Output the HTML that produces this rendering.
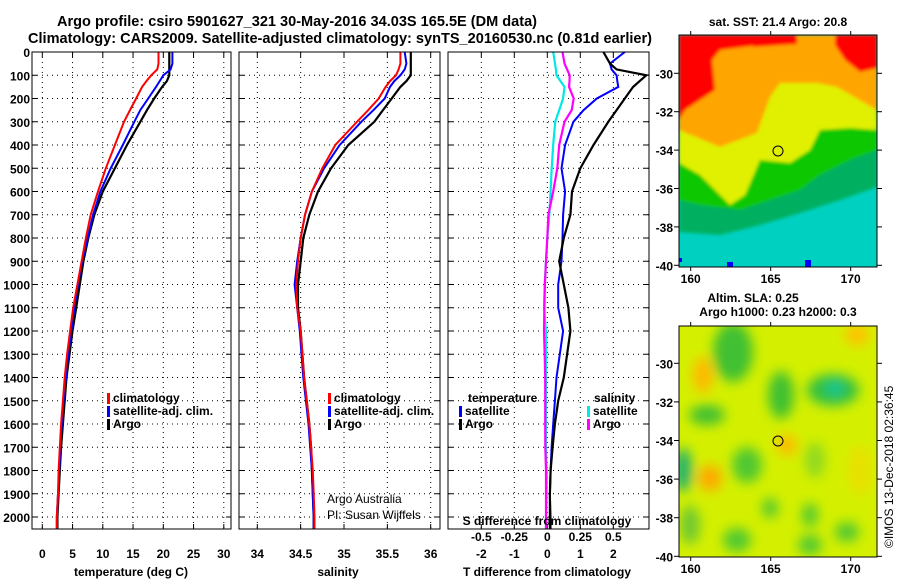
<!DOCTYPE html>
<html><head><meta charset="utf-8"><style>
html,body{margin:0;padding:0;background:#fff;}
svg{display:block;font-family:"Liberation Sans",sans-serif;}
</style></head><body>
<svg id="chart" width="900" height="580" viewBox="0 0 900 580" xmlns="http://www.w3.org/2000/svg">
<defs>
<filter id="blur4" x="-50%" y="-50%" width="200%" height="200%"><feGaussianBlur stdDeviation="6"/></filter>
<filter id="blur1" x="-10%" y="-10%" width="120%" height="120%"><feGaussianBlur stdDeviation="1.5"/></filter>
<clipPath id="clipMap1"><rect x="679" y="35" width="198" height="232"/></clipPath>
<clipPath id="clipMap2"><rect x="679" y="326" width="198" height="231"/></clipPath>
<clipPath id="clipP1"><rect x="32" y="52" width="199" height="477"/></clipPath>
<clipPath id="clipP2"><rect x="239" y="52" width="201" height="477"/></clipPath>
<clipPath id="clipP3"><rect x="448" y="52" width="201" height="477"/></clipPath>
</defs>
<text x="57" y="26" font-size="15" font-weight="bold" textLength="480" lengthAdjust="spacingAndGlyphs">Argo profile: csiro 5901627_321 30-May-2016 34.03S 165.5E (DM data)</text>
<text x="28" y="43" font-size="15" font-weight="bold" textLength="624" lengthAdjust="spacingAndGlyphs">Climatology: CARS2009. Satellite-adjusted climatology: synTS_20160530.nc (0.81d earlier)</text>

<!-- Map 1 -->
<g clip-path="url(#clipMap1)">
<rect x="679" y="35" width="198" height="232" fill="#00d0c0"/>
<g filter="url(#blur1)">
<polygon fill="#00b060" points="679,35 877,35 877,187 840,200 800,213 760,225 720,235 679,232"/>
<polygon fill="#10c800" points="679,35 877,35 877,150 850,160 820,175 800,190 770,200 740,210 700,205 679,200"/>
<polygon fill="#e0f000" points="679,35 877,35 877,130 850,128 820,130 810,150 790,163 760,160 745,195 730,205 700,175 679,163"/>
<polygon fill="#ffa500" points="679,35 877,35 877,110 837,87 817,83 780,83 770,97 757,133 720,147 679,130"/>
<polygon fill="#ff0000" points="679,35 760,35 760,45 720,50 712,60 715,90 700,100 685,110 679,120"/>
<polygon fill="#ff0000" points="753,35 797,35 797,44 753,47"/>
<polygon fill="#ff0000" points="835,35 877,35 877,68 860,72 845,60 835,45"/>
</g>
<rect x="679" y="258" width="3" height="4" fill="#0000ff"/>
<rect x="727" y="262" width="6" height="5" fill="#0000ff"/>
<rect x="805" y="260" width="6" height="7" fill="#0000ff"/>
</g>
<rect x="679" y="35" width="198" height="232" fill="none" stroke="#000"/>
<circle cx="778" cy="151" r="5" fill="none" stroke="#000"/>
<text x="778" y="26" font-size="12" font-weight="bold" text-anchor="middle">sat. SST: 21.4 Argo: 20.8</text>

<!-- Map 2 -->
<g clip-path="url(#clipMap2)">
<rect x="679" y="326" width="198" height="231" fill="#d4f000"/>
<g filter="url(#blur4)">
<ellipse cx="733" cy="352" rx="20" ry="30" fill="#40c030"/>
<ellipse cx="833" cy="390" rx="26" ry="16" fill="#30c040"/>
<ellipse cx="835" cy="388" rx="8" ry="7" fill="#00c8a0"/>
<ellipse cx="781" cy="395" rx="13" ry="24" fill="#40c030"/>
<ellipse cx="707" cy="415" rx="18" ry="10" fill="#40c030"/>
<ellipse cx="683" cy="470" rx="9" ry="22" fill="#20b070"/>
<ellipse cx="710" cy="478" rx="12" ry="13" fill="#ffa800"/>
<ellipse cx="703" cy="375" rx="10" ry="18" fill="#ffb800"/>
<ellipse cx="787" cy="445" rx="10" ry="10" fill="#ffb800"/>
<ellipse cx="857" cy="335" rx="12" ry="10" fill="#ffc000"/>
<ellipse cx="747" cy="465" rx="15" ry="18" fill="#50c830"/>
<ellipse cx="770" cy="508" rx="8" ry="10" fill="#50c830"/>
<ellipse cx="810" cy="515" rx="8" ry="12" fill="#50c830"/>
<ellipse cx="737" cy="540" rx="14" ry="12" fill="#50c830"/>
<ellipse cx="810" cy="545" rx="12" ry="10" fill="#50c830"/>
<ellipse cx="847" cy="532" rx="12" ry="10" fill="#50c830"/>
<ellipse cx="815" cy="460" rx="10" ry="18" fill="#90d820"/>
<ellipse cx="860" cy="470" rx="12" ry="25" fill="#e8e000"/>
<ellipse cx="690" cy="525" rx="10" ry="20" fill="#70c830"/>
</g>
</g>
<rect x="679" y="326" width="198" height="231" fill="none" stroke="#000"/>
<circle cx="778" cy="441" r="5" fill="none" stroke="#000"/>
<text x="753" y="302" font-size="12" font-weight="bold" text-anchor="middle">Altim. SLA: 0.25</text>
<text x="778" y="316" font-size="12" font-weight="bold" text-anchor="middle">Argo h1000: 0.23 h2000: 0.3</text>
<text transform="translate(893,548) rotate(-90)" font-size="12">©IMOS 13-Dec-2018 02:36:45</text>
<g id="axes"></g>
</svg>
<script>
// ---- data ----
const depths = [0,50,75,100,125,150,200,250,300,400,500,600,700,800,900,1000,1100,1200,1300,1400,1500,1600,1700,1800,1900,2000,2050];
const tempClim = [19.2,19.2,19.0,18.0,17.2,16.5,15.5,14.5,13.5,12.0,10.5,9.2,8.0,7.2,6.5,5.8,5.1,4.6,4.1,3.7,3.4,3.1,2.9,2.7,2.6,2.4,2.4];
const tempSat  = [21.5,21.5,21.2,20.0,19.4,18.8,17.5,16.2,15.2,13.3,11.3,9.6,8.4,7.5,6.6,5.9,5.3,4.8,4.3,3.9,3.5,3.2,3.0,2.8,2.6,2.4,2.4];
const tempArgo = [21.0,21.0,21.0,21.0,20.6,19.8,18.5,17.3,16.2,14.0,12.0,10.0,8.6,7.6,6.8,6.2,5.6,5.0,4.5,4.0,3.7,3.4,3.1,2.9,2.7,2.5,2.5];
const salClim = [35.65,35.65,35.63,35.6,35.53,35.48,35.4,35.28,35.15,34.9,34.75,34.63,34.55,34.5,34.47,34.45,34.46,34.5,34.52,34.54,34.57,34.6,34.62,34.64,34.65,34.66,34.66];
const salSat  = [35.7,35.72,35.7,35.65,35.58,35.53,35.47,35.34,35.2,34.95,34.77,34.63,34.55,34.5,34.46,34.43,34.46,34.49,34.51,34.53,34.56,34.59,34.61,34.63,34.64,34.65,34.65];
const salArgo = [35.77,35.77,35.77,35.77,35.72,35.65,35.55,35.45,35.35,35.05,34.85,34.7,34.6,34.53,34.5,34.47,34.47,34.5,34.52,34.54,34.57,34.6,34.62,34.63,34.64,34.65,34.65];
const dTSat  = [2.35,1.9,1.95,2.1,2.12,2.15,1.5,1.1,0.79,0.54,0.43,0.54,0.48,0.46,0.43,0.33,0.33,0.48,0.38,0.28,0.23,0.18,0.13,0.1,0.08,0.1,0.1];
const dTArgo = [1.7,1.9,2.1,3.0,2.8,2.6,2.35,2.1,1.85,1.4,1.0,0.75,0.7,0.5,0.36,0.5,0.64,0.7,0.6,0.5,0.33,0.23,0.16,0.1,0.08,0.08,0.08];
const dSSat  = [0.045,0.058,0.065,0.07,0.1,0.13,0.12,0.09,0.06,0.045,0.033,0.025,0.015,0,-0.01,-0.02,-0.025,-0.01,-0.01,-0.01,-0.01,-0.01,-0.01,-0.005,-0.005,-0.01,-0.01];
const dSArgo = [0.115,0.13,0.15,0.17,0.168,0.165,0.2,0.185,0.13,0.09,0.076,0.045,0.008,0,-0.01,-0.018,-0.022,-0.025,-0.02,-0.016,-0.016,-0.016,-0.015,-0.01,-0.01,-0.01,-0.01];
const depthTicks = [0,100,200,300,400,500,600,700,800,900,1000,1100,1200,1300,1400,1500,1600,1700,1800,1900,2000];
const tempTicks = [0,5,10,15,20,25,30];
const salTicks = [34,34.5,35,35.5,36];
const dTTicks = [-2,-1,0,1,2];
const dSTicks = [-0.5,-0.25,0,0.25,0.5];
const dSTickLabels = ["-0.5","-0.25","0","0.25","0.5"];
const latTicks = [-30,-32,-34,-36,-38,-40];
const lonTicks = [160,165,170];

const NS="http://www.w3.org/2000/svg";
const root=document.getElementById('axes');
function mk(tag,attrs,parent){const e=document.createElementNS(NS,tag);for(const k in attrs)e.setAttribute(k,attrs[k]);(parent||root).appendChild(e);return e;}
const yD = d => 52 + d*0.2325;
const xT = v => 42.3 + v*6.05;
const xS = v => 257.3 + (v-34)*86.7;
const xDT = v => 547.3 + v*33;
const xDS = v => 547.3 + v*132;
const yLat1 = v => 73.3 + (-30 - v)*19.2;
const yLat2 = v => 363.3 + (-30 - v)*19.3;
const xLon = v => 690.7 + (v-160)*16;

const panels=[{x:32,w:199,clip:'clipP1',name:'temperature'},{x:239,w:201,clip:'clipP2',name:'salinity'},{x:448,w:201,clip:'clipP3',name:'difference'}];
panels.forEach(p=>{
  const g=mk('g',{});
  
  
  depthTicks.forEach(d=>{
    const l=mk('line',{x1:p.x,x2:p.x+p.w,y1:yD(d),y2:yD(d),stroke:'#000','stroke-width':1,'stroke-dasharray':'1,4'},g);
    
    
    mk('line',{x1:p.x,x2:p.x+5,y1:yD(d),y2:yD(d),stroke:'#000'},g);
    mk('line',{x1:p.x+p.w-5,x2:p.x+p.w,y1:yD(d),y2:yD(d),stroke:'#000'},g);
  });
  p.g=g;
});
depthTicks.forEach(d=>{
  const t=mk('text',{x:30,y:yD(d)+5,'font-size':12,'font-weight':'bold','text-anchor':'end'});
  
  
  t.textContent=d;
});
function xgrid(g,ticks,fx,labels,ly){
  ticks.forEach((v,i)=>{
    const x=fx(v);
    mk('line',{x1:x,x2:x,y1:52,y2:529,stroke:'#000','stroke-dasharray':'1,4'},g);
    mk('line',{x1:x,x2:x,y1:52,y2:57,stroke:'#000'},g);
    mk('line',{x1:x,x2:x,y1:524,y2:529,stroke:'#000'},g);
    const t=mk('text',{x:x,y:ly,'font-size':12,'font-weight':'bold','text-anchor':'middle'},g);
    
    
    t.textContent=labels?labels[i]:v;
  });
}
xgrid(panels[0].g,tempTicks,xT,null,558);
xgrid(panels[1].g,salTicks,xS,null,558);
xgrid(panels[2].g,dTTicks,xDT,null,558);
dSTicks.forEach((v,i)=>{
  const t=mk('text',{x:xDS(v),y:541,'font-size':12,'font-weight':'bold','text-anchor':'middle'},panels[2].g);
  
  
  t.textContent=dSTickLabels[i];
});
function line(g,xs,fx,color,w,clip,name){
  const pts=xs.map((v,i)=>fx(v).toFixed(1)+','+yD(depths[i]).toFixed(1)).join(' ');
  const pl=mk('polyline',{points:pts,fill:'none',stroke:color,'stroke-width':w,'clip-path':'url(#'+clip+')'},g);
  
  
}
line(panels[0].g,tempArgo,xT,'#000',2.2,'clipP1','temp-argo-line');
line(panels[0].g,tempSat,xT,'#0000ff',2,'clipP1','temp-satellite-line');
line(panels[0].g,tempClim,xT,'#ff0000',2,'clipP1','temp-climatology-line');
line(panels[1].g,salArgo,xS,'#000',2.2,'clipP2','salinity-argo-line');
line(panels[1].g,salSat,xS,'#0000ff',2,'clipP2','salinity-satellite-line');
line(panels[1].g,salClim,xS,'#ff0000',2,'clipP2','salinity-climatology-line');
line(panels[2].g,dSSat,xDS,'#00e8e8',2.2,'clipP3','s-diff-satellite-line');
line(panels[2].g,dSArgo,xDS,'#ff00ff',2.2,'clipP3','s-diff-argo-line');
line(panels[2].g,dTSat,xDT,'#0000ff',2,'clipP3','t-diff-satellite-line');
line(panels[2].g,dTArgo,xDT,'#000',2.2,'clipP3','t-diff-argo-line');
panels.forEach(p=>{
  const r=mk('rect',{x:p.x,y:52,width:p.w,height:477,fill:'none',stroke:'#000','stroke-width':1},p.g);
  
  
});
function txt(x,y,s,opts,name){
  const t=mk('text',Object.assign({x:x,y:y,'font-size':12,'font-weight':'bold'},opts||{}));
  
  
  t.textContent=s;return t;
}
function legend(x,y,color,label,name){
  const m=mk('rect',{x:x,y:y-9,width:3,height:11,fill:color});
  
  
  txt(x+6,y,label,{},name+'-label');
}
legend(107,402,'#ff0000','climatology','legend-temp-climatology');
legend(107,415,'#0000ff','satellite-adj. clim.','legend-temp-satellite');
legend(107,428,'#000','Argo','legend-temp-argo');
legend(328,402,'#ff0000','climatology','legend-sal-climatology');
legend(328,415,'#0000ff','satellite-adj. clim.','legend-sal-satellite');
legend(328,428,'#000','Argo','legend-sal-argo');
txt(468,402,'temperature',{},'legend-diff-temperature-header');
legend(459,415,'#0000ff','satellite','legend-diff-t-satellite');
legend(459,428,'#000','Argo','legend-diff-t-argo');
txt(594,402,'salinity',{},'legend-diff-salinity-header');
legend(587,415,'#00e8e8','satellite','legend-diff-s-satellite');
legend(587,428,'#ff00ff','Argo','legend-diff-s-argo');
txt(327,503,'Argo Australia',{'font-weight':'normal'},'credit-argo-australia');
txt(327,519,'PI: Susan Wijffels',{'font-weight':'normal'},'credit-pi');
txt(131,576,'temperature (deg C)',{'text-anchor':'middle'},'x-axis-title-temperature');
txt(338,576,'salinity',{'text-anchor':'middle'},'x-axis-title-salinity');
txt(547,576,'T difference from climatology',{'text-anchor':'middle'},'x-axis-title-t-diff');
txt(547,525,'S difference from climatology',{'text-anchor':'middle'},'x-axis-title-s-diff');
// map axes
latTicks.forEach(v=>{
  [[yLat1,35,267],[yLat2,326,557]].forEach(([f,t0,t1])=>{
    const y=f(v);
    if(y<t0-1||y>t1+1) return;
    mk('line',{x1:674,x2:679,y1:y,y2:y,stroke:'#000'});
    mk('line',{x1:877,x2:882,y1:y,y2:y,stroke:'#000'});
    txt(673,y+5,v,{'text-anchor':'end'},'lat-tick-label');
  });
});
lonTicks.forEach(v=>{
  const x=xLon(v);
  [[35,267,283],[326,557,573]].forEach(([t0,t1,ly])=>{
    mk('line',{x1:x,x2:x,y1:t0-4,y2:t0,stroke:'#000'});
    mk('line',{x1:x,x2:x,y1:t1,y2:t1+4,stroke:'#000'});
    txt(x,ly,v,{'text-anchor':'middle'},'lon-tick-label');
  });
});
</script>
</body></html>
